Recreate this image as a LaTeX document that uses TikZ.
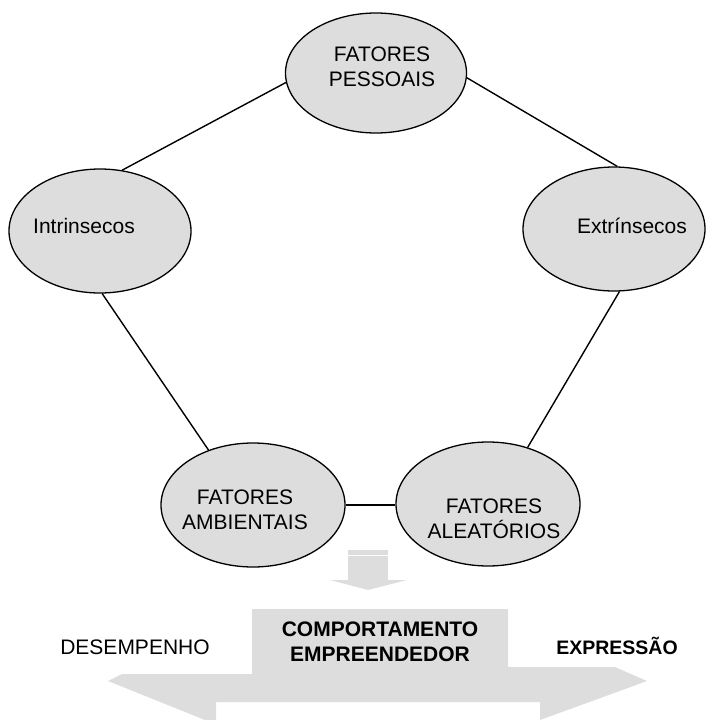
\documentclass[tikz,border=0pt]{standalone}
\usepackage{fontspec}
\setmainfont{Liberation Sans}
\usetikzlibrary{shapes.geometric}
\definecolor{lightgrey}{HTML}{DDDDDD}
\tikzset{
  factor/.style={ellipse, draw, fill=lightgrey, line width=1.3pt, inner sep=0pt,
    minimum width=182pt, minimum height=124pt},
  factor text/.style={align=center, inner sep=0pt, font=\fontsize{21}{25}\selectfont},
  link/.style={line width=1.4pt}
}
\begin{document}
\begin{tikzpicture}[x=1pt,y=-1pt]
  \useasboundingbox (0,0) rectangle (706,720);

  \node [factor, minimum width=181pt, minimum height=120pt] (pess) at (376,73) {};
  \node [factor] (intr) at (100,231) {};
  \node [factor] (extr) at (614,229) {};
  \node [factor, minimum width=184pt] (amb) at (253,505) {};
  \node [factor, minimum width=184pt] (alea) at (488,504) {};

  \node [factor text] (pess-t) at (382,67) {FATORES\\PESSOAIS};
  \node [factor text] (intr-t) at (84,226) {Intrinsecos};
  \node [factor text] (extr-t) at (632,226) {Extrínsecos};
  \node [factor text] (amb-t) at (245,510) {FATORES\\AMBIENTAIS};
  \node [factor text] (alea-t) at (494,519) {FATORES\\ALEATÓRIOS};

  \draw [link] (pess.186) -- (intr.70);
  \draw [link] (pess.-3) -- (extr.87);
  \draw [link] (intr.-88) -- (amb.129);
  \draw [link] (extr.-85) -- (alea.55);
  \draw [link] (amb.east) -- (amb.east -| alea.west);

  % small arrow
  \fill [lightgrey] (348,550) rectangle (388,580);
  \fill [lightgrey] (330,580) -- (407,580) -- (368,590) -- cycle;
  \draw [white, line width=0.8pt] (348,555) -- (388,555);

  % big arrow
  \fill [lightgrey] (252,609) -- (508,609) -- (508,667) -- (615,667) -- (647,681)
    -- (540,720) -- (540,702) -- (216,702) -- (216,720) -- (205,720) -- (108,681)
    -- (122,674) -- (252,674) -- cycle;

  \node [factor text, font=\fontsize{21}{25}\selectfont\bfseries] (comp) at (380,642)
    {COMPORTAMENTO\\EMPREENDEDOR};
  \node [factor text, anchor=base] (desemp) at (135,654) {DESEMPENHO};
  \node [factor text, anchor=base, font=\fontsize{19.5}{24}\selectfont\bfseries] (expr)
    at (617,654) {EXPRESSÃO};
\end{tikzpicture}
\end{document}
